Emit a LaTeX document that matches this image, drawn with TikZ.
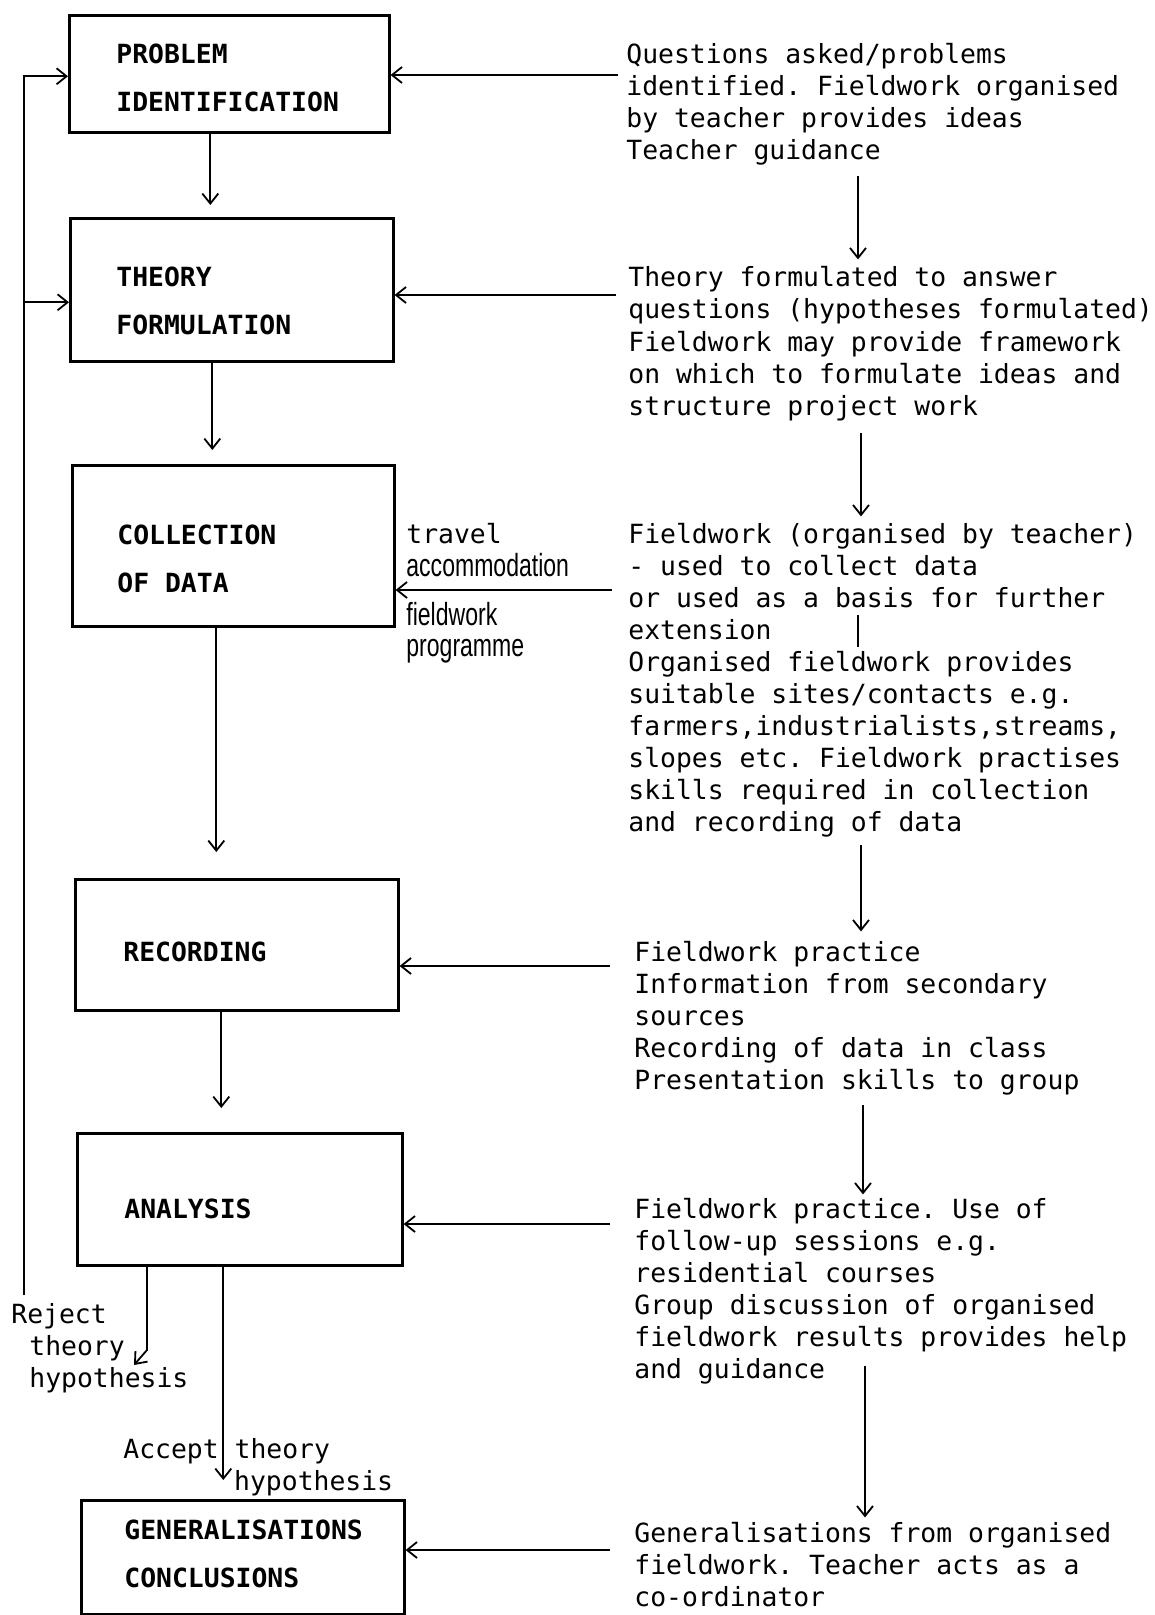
\documentclass[tikz,border=0pt]{standalone}
\usepackage{fontspec}
\setmonofont{DejaVu Sans Mono}
\newfontfamily\narrowfont[FakeStretch=0.72]{Liberation Sans}
\usetikzlibrary{arrows.meta}
\tikzset{
  stage/.style={draw, line width=1.3pt, anchor=north west, inner sep=0pt},
  heading/.style={anchor=base west, inner sep=0pt, align=left,
    font=\fontsize{13.2}{24}\selectfont\ttfamily\bfseries},
  note/.style={anchor=base west, inner sep=0pt, align=left,
    font=\fontsize{13.2}{16}\selectfont\ttfamily},
  small/.style={anchor=base west, inner sep=0pt,
    font=\fontsize{16}{16}\selectfont\narrowfont},
  arr/.style={line width=0.9pt, -{Straight Barb[length=5pt,width=8pt]}}
}
\frenchspacing
\begin{document}
\begin{tikzpicture}[x=0.5pt, y=-0.5pt]
\useasboundingbox (0,0) rectangle (1155,1615);
% stages
\node[stage, minimum width=160pt, minimum height=58.5pt] (prob) at (68,14) {};
\node[stage, minimum width=161.5pt, minimum height=71.5pt] (theo) at (69,217) {};
\node[stage, minimum width=161pt, minimum height=80.5pt] (coll) at (71,464) {};
\node[stage, minimum width=161.5pt, minimum height=65.5pt] (reco) at (74,878) {};
\node[stage, minimum width=162.5pt, minimum height=66pt] (anal) at (76,1132) {};
\node[stage, minimum width=161.5pt, minimum height=57pt] (gene) at (80,1499) {};
% (base of a multi-line node = its last line)
\node[heading] (probt) at (116,112) {PROBLEM\\IDENTIFICATION};
\node[heading] (theot) at (116,335) {THEORY\\FORMULATION};
\node[heading] (collt) at (117,592) {COLLECTION\\OF DATA};
\node[heading] (recot) at (123,961) {RECORDING};
\node[heading] (analt) at (124,1218) {ANALYSIS};
\node[heading] (genet) at (124,1587) {GENERALISATIONS\\CONCLUSIONS};
% notes on the right
\node[note] (q1) at (626,160) {Questions asked/problems\\identified. Fieldwork organised\\by teacher provides ideas\\Teacher guidance};
\node[note] (q2) at (628,415) {Theory formulated to answer\\questions (hypotheses formulated)\\Fieldwork may provide framework\\on which to formulate ideas and\\structure project work};
\node[note] (q3) at (628,831) {Fieldwork (organised by teacher)\\- used to collect data\\or used as a basis for further\\extension\\Organised fieldwork provides\\suitable sites/contacts e.g.\\farmers,industrialists,streams,\\slopes etc. Fieldwork practises\\skills required in collection\\and recording of data};
\node[note] (q4) at (634,1089) {Fieldwork practice\\Information from secondary\\sources\\Recording of data in class\\Presentation skills to group};
\node[note] (q5) at (634,1378) {Fieldwork practice. Use of\\follow-up sessions e.g.\\residential courses\\Group discussion of organised\\fieldwork results provides help\\and guidance};
\node[note] (q6) at (634,1606) {Generalisations from organised\\fieldwork. Teacher acts as a\\co-ordinator};
% side labels
\node[note] (trav) at (406,543) {travel};
\node[small] (acco) at (406,576) {accommodation};
\node[small] (fiel) at (406,625) {fieldwork};
\node[small] (prog) at (406,656) {programme};
\node[note] (reje) at (11,1387) {Reject\\\hspace*{9pt}theory\\\hspace*{9pt}hypothesis};
\node[note] (acce) at (123,1490) {Accept theory\\\hspace*{55.4pt}hypothesis};
% down the left column
\draw[arr, shorten >=6pt] ([xshift=-9.5pt]prob.south) -- ([xshift=-9.5pt]prob.south |- theo.north);
\draw[arr, shorten >=7pt] ([xshift=-9.75pt]theo.south) -- ([xshift=-9.75pt]theo.south |- coll.north);
\draw[arr, shorten >=13pt] ([xshift=-8.5pt]coll.south) -- ([xshift=-8.5pt]coll.south |- reco.north);
\draw[arr, shorten >=12pt] ([xshift=-7.75pt]reco.south) -- ([xshift=-7.75pt]reco.south |- anal.north);
\draw[arr, shorten >=9.5pt] ([xshift=-8.25pt]anal.south) -- ([xshift=-8.25pt]anal.south |- gene.north);
% reject loop
\coordinate (loop) at (24,1295);
\coordinate (rj) at (147,1350);
\coordinate (rjtip) at (134,1365);
\draw[arr] (loop) |- ([yshift=-1.25pt]prob.west);
\draw[arr] ([yshift=-6.25pt]loop |- theo.west) -- ([yshift=-6.25pt]theo.west);
\draw[arr] (anal.south -| rj) -- (rj) -- (rjtip);
% inputs from the right
\coordinate (f1) at (618,75);
\coordinate (f2) at (616,295);
\coordinate (f3) at (612,590);
\coordinate (f4) at (610,966);
\coordinate (f5) at (610,1224);
\coordinate (f6) at (610,1550);
\draw[arr] (f1) -- (prob.east |- f1);
\draw[arr] (f2) -- (theo.east |- f2);
\draw[arr] (f3) -- (coll.east |- f3);
\draw[arr] (f4) -- (reco.east |- f4);
\draw[arr] (f5) -- (anal.east |- f5);
\draw[arr] (f6) -- (gene.east |- f6);
% down the right column
\draw[arr] ([yshift=-5pt]q1.south -| 858,0) -- ([yshift=3.5pt]q2.north -| 858,0);
\draw[arr] ([yshift=-6pt]q2.south -| 861,0) -- ([yshift=3pt]q3.north -| 861,0);
\draw[line width=0.9pt] (858,615) -- (858,647);
\draw[arr] ([yshift=-4pt]q3.south -| 861,0) -- ([yshift=4.5pt]q4.north -| 861,0);
\draw[arr] ([yshift=-5pt]q4.south -| 863,0) -- ([yshift=1.5pt]q5.north -| 863,0);
\draw[arr] (865,1366) -- ([yshift=2pt]q6.north -| 865,0);
\end{tikzpicture}
\end{document}
